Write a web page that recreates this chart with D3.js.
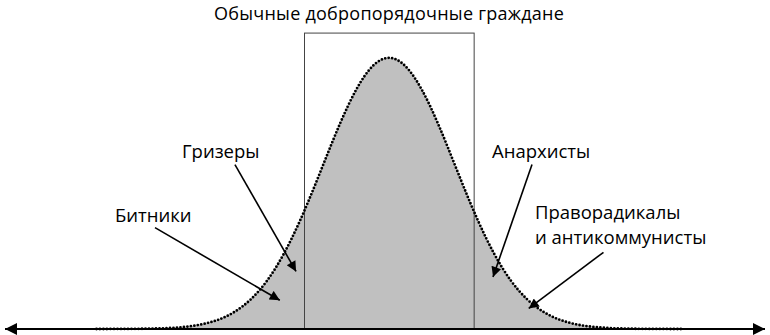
<!DOCTYPE html>
<html><head><meta charset="utf-8">
<script src="https://cdn.jsdelivr.net/npm/d3@7/dist/d3.min.js"></script>
<style>body{margin:0;background:#fff}svg{display:block}text{font-family:"Open Sans",sans-serif;fill:#000}</style>
</head><body>
<script>
// Curve: position in σ units, relative height
const curveX = [-4.5,-4.25,-4,-3.75,-3.5,-3.25,-3,-2.75,-2.5,-2.25,-2,-1.75,-1.5,-1.25,-1,-0.75,-0.5,-0.25,0,0.25,0.5,0.75,1,1.25,1.5,1.75,2,2.25,2.5,2.75,3,3.25,3.5,3.75,4,4.25,4.5];
const curveY = [0,0.0001,0.0003,0.001,0.002,0.005,0.011,0.023,0.044,0.08,0.135,0.216,0.325,0.458,0.607,0.755,0.882,0.969,1,0.969,0.882,0.755,0.607,0.458,0.325,0.216,0.135,0.08,0.044,0.023,0.011,0.005,0.002,0.001,0.0003,0.0001,0];
const bandX = [-1.3, 1.31];
const bandTop = 1.08;
const title = "Обычные добропорядочные граждане";
const labels = ["Гризеры","Битники","Анархисты","Праворадикалы|и антикоммунисты"];
// arrow start (label side) and tip in data units
const arrowFrom = [[-2.37,0.6],[-3.6,0.37],[2.2,0.6],[3.3,0.28]];
const arrowTo   = [[-1.43,0.21],[-1.68,0.105],[1.6,0.19],[2.15,0.075]];
const labelPos  = [[-3.185,0.625],[-4.215,0.39],[1.585,0.625],[2.246,0.4]];

const W=770,H=335;
const x=d3.scaleLinear().domain([-4.5,4.5]).range([96.5,681.5]);
const y=d3.scaleLinear().domain([0,1]).range([329,55]);
const svg=d3.select("body").append("svg").attr("width",W).attr("height",H);
const defs=svg.append("defs");
defs.append("marker").attr("id","ah").attr("viewBox","0 0 10 10").attr("refX",10).attr("refY",5)
 .attr("markerWidth",16).attr("markerHeight",12).attr("markerUnits","userSpaceOnUse").attr("orient","auto")
 .append("path").attr("d","M0,0L10,5L0,10Z").attr("fill","#000");
defs.append("marker").attr("id","ah2").attr("viewBox","0 0 10 10").attr("refX",10).attr("refY",5)
 .attr("markerWidth",12).attr("markerHeight",10).attr("markerUnits","userSpaceOnUse").attr("orient","auto")
 .append("path").attr("d","M0,0L10,5L0,10Z").attr("fill","#000");

const pts=curveX.map((v,i)=>[v,curveY[i]]);
svg.append("path").datum(pts)
 .attr("d",d3.area().x(d=>x(d[0])).y0(y(0)).y1(d=>y(d[1])).curve(d3.curveBasis))
 .attr("fill","#c0c0c0");
svg.append("rect").attr("x",x(bandX[0])).attr("y",y(bandTop))
 .attr("width",x(bandX[1])-x(bandX[0])).attr("height",y(0)-y(bandTop))
 .attr("fill","none").attr("stroke","#444").attr("stroke-width",1);
svg.append("path").datum(pts)
 .attr("d",d3.line().x(d=>x(d[0])).y(d=>y(d[1])).curve(d3.curveBasis))
 .attr("fill","none").attr("stroke","#000").attr("stroke-width",2.8)
 .attr("stroke-dasharray","0 3.5").attr("stroke-linecap","round");
// axis with arrows on both ends
svg.append("line").attr("x1",385).attr("x2",5).attr("y1",y(0)).attr("y2",y(0))
 .attr("stroke","#000").attr("stroke-width",2).attr("marker-end","url(#ah)");
svg.append("line").attr("x1",385).attr("x2",765).attr("y1",y(0)).attr("y2",y(0))
 .attr("stroke","#000").attr("stroke-width",2).attr("marker-end","url(#ah)");

svg.append("text").attr("x",x(0)).attr("y",19.5).attr("text-anchor","middle")
 .attr("font-size",18).attr("letter-spacing",0.25).text(title);

labels.forEach((l,i)=>{
 svg.append("line").attr("x1",x(arrowFrom[i][0])).attr("y1",y(arrowFrom[i][1]))
  .attr("x2",x(arrowTo[i][0])).attr("y2",y(arrowTo[i][1]))
  .attr("stroke","#000").attr("stroke-width",1.6).attr("marker-end","url(#ah2)");
 const t=svg.append("text").attr("x",x(labelPos[i][0])).attr("y",y(labelPos[i][1]))
  .attr("font-size",18.5);
 l.split("|").forEach((s,j)=>t.append("tspan").attr("x",x(labelPos[i][0])).attr("dy",j?25:0).text(s));
});
</script>
</body></html>
